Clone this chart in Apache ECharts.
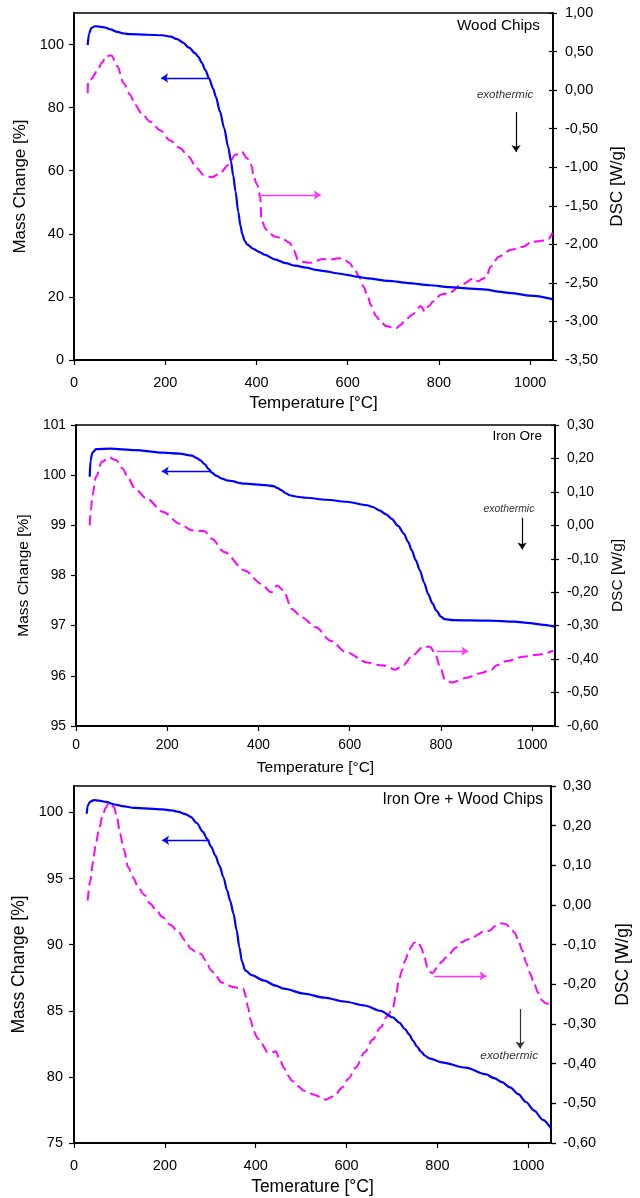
<!DOCTYPE html>
<html>
<head>
<meta charset="utf-8">
<script src="https://cdn.jsdelivr.net/npm/echarts@6/dist/echarts.min.js"></script>
<style>
html,body{margin:0;padding:0;background:#fff;}
#chart{width:640px;height:1198px;}
</style>
</head>
<body>
<div id="chart"></div>
<script>
// ---------------- DATA ----------------
const panelTitles = ['Wood Chips', 'Iron Ore', 'Iron Ore + Wood Chips'];
const xAxisTitles = ['Temperature [°C]', 'Temperature [°C]', 'Temerature [°C]'];
const leftAxisTitle = 'Mass Change [%]';
const rightAxisTitle = 'DSC [W/g]';
const annotationText = 'exothermic';

// Wood chips: [temperature °C, mass %]
const woodMass = [[30,99.8],[33,103.5],[38,105.2],[46,105.8],[55,105.7],[68,105.4],[80,104.8],[95,104.0],[110,103.5],[122,103.3],[160,103.1],[194,102.95],[212,102.5],[226,101.7],[239,100.6],[252,99.0],[266,97.2],[272,96.2],[280,94.3],[288,91.9],[296,89.3],[305,86.0],[311,83.4],[320,78.8],[329,73.6],[338,67.5],[344,63.0],[349,58.5],[354,53.5],[360,47.0],[365,42.5],[369,39.8],[374,37.8],[380,36.6],[392,35.3],[405,34.3],[419,33.3],[440,31.9],[464,30.7],[485,29.9],[509,29.3],[530,28.6],[553,28.1],[575,27.5],[598,27.0],[620,26.4],[643,25.9],[690,25.1],[733,24.4],[780,23.7],[823,23.1],[870,22.6],[904,22.3],[930,21.7],[958,21.2],[1000,20.4],[1049,19.3]];
// Wood chips: [temperature °C, DSC W/g]
const woodDsc = [[30,-0.04],[31,0.12],[37,0.14],[50,0.24],[62,0.36],[70,0.44],[82,0.45],[95,0.31],[109,0.09],[123,-0.06],[134,-0.19],[148,-0.30],[167,-0.41],[189,-0.52],[210,-0.65],[232,-0.75],[251,-0.86],[269,-1.01],[284,-1.10],[302,-1.13],[320,-1.08],[338,-0.97],[353,-0.84],[368,-0.80],[379,-0.88],[385,-0.92],[390,-0.99],[393,-1.12],[402,-1.23],[408,-1.38],[411,-1.68],[420,-1.80],[428,-1.85],[440,-1.90],[455,-1.92],[473,-1.98],[482,-2.08],[491,-2.20],[505,-2.23],[518,-2.24],[545,-2.19],[560,-2.20],[580,-2.18],[592,-2.19],[603,-2.24],[615,-2.32],[625,-2.42],[635,-2.55],[643,-2.67],[652,-2.80],[662,-2.93],[672,-3.00],[684,-3.06],[706,-3.09],[715,-3.05],[724,-3.00],[742,-2.91],[760,-2.80],[769,-2.87],[778,-2.80],[787,-2.74],[805,-2.65],[823,-2.63],[850,-2.52],[877,-2.44],[886,-2.48],[895,-2.45],[904,-2.42],[913,-2.29],[931,-2.16],[958,-2.07],[985,-2.03],[1003,-1.97],[1030,-1.95],[1040,-1.93],[1049,-1.85]];

// Iron ore
const ironMass = [[30,99.97],[32,100.3],[36,100.45],[44,100.52],[75,100.53],[129,100.5],[191,100.45],[227,100.43],[254,100.39],[265,100.34],[272,100.3],[282,100.22],[290,100.13],[298,100.05],[307,99.99],[320,99.93],[334,99.89],[370,99.83],[415,99.8],[433,99.78],[442,99.74],[450,99.7],[460,99.64],[468,99.6],[485,99.57],[504,99.55],[549,99.51],[593,99.47],[638,99.4],[652,99.36],[665,99.3],[680,99.22],[692,99.13],[706,98.99],[719,98.83],[728,98.67],[736,98.5],[745,98.3],[754,98.1],[763,97.86],[772,97.63],[781,97.45],[790,97.3],[800,97.18],[808,97.13],[826,97.11],[906,97.1],[960,97.08],[996,97.05],[1020,97.02],[1049,96.98]];
const ironDsc = [[30,0.0],[33,0.05],[36,0.09],[44,0.145],[57,0.19],[73,0.203],[88,0.195],[102,0.17],[115,0.14],[129,0.11],[155,0.08],[191,0.04],[227,0.005],[254,-0.015],[268,-0.017],[281,-0.017],[298,-0.04],[325,-0.08],[370,-0.135],[406,-0.175],[428,-0.2],[441,-0.18],[455,-0.195],[473,-0.25],[495,-0.275],[526,-0.305],[558,-0.345],[593,-0.38],[638,-0.41],[666,-0.418],[680,-0.42],[699,-0.432],[717,-0.418],[739,-0.388],[761,-0.363],[776,-0.363],[787,-0.383],[798,-0.423],[809,-0.462],[824,-0.47],[856,-0.456],[886,-0.442],[911,-0.432],[922,-0.418],[944,-0.406],[980,-0.393],[1017,-0.386],[1046,-0.375]];

// Iron ore + wood chips
const mixMass = [[28,99.9],[30,100.5],[35,100.8],[44,100.93],[55,100.9],[70,100.8],[90,100.6],[106,100.48],[133,100.35],[195,100.23],[215,100.15],[230,100.05],[245,99.88],[257,99.67],[270,99.2],[284,98.54],[293,98.0],[302,97.4],[311,96.75],[320,96.0],[329,95.1],[337,94.1],[344,93.3],[351,92.35],[358,91.1],[364,89.8],[370,88.7],[377,88.05],[391,87.7],[417,87.3],[444,86.9],[462,86.67],[506,86.3],[551,86.0],[595,85.7],[640,85.4],[675,85.0],[702,84.5],[716,84.1],[729,83.6],[738,83.2],[746,82.75],[755,82.3],[764,81.9],[773,81.6],[782,81.4],[809,81.1],[862,80.7],[907,80.2],[925,79.9],[942,79.6],[960,79.2],[978,78.7],[995,78.1],[1013,77.45],[1032,76.75],[1051,76.05]];
const mixDsc = [[30,0.011],[36,0.062],[42,0.11],[48,0.155],[55,0.19],[63,0.226],[70,0.245],[77,0.257],[88,0.247],[95,0.22],[101,0.18],[110,0.14],[119,0.096],[130,0.07],[141,0.045],[155,0.025],[168,0.003],[182,-0.015],[195,-0.031],[212,-0.05],[230,-0.068],[245,-0.09],[257,-0.11],[270,-0.12],[279,-0.123],[290,-0.14],[302,-0.165],[313,-0.18],[324,-0.195],[340,-0.203],[351,-0.207],[362,-0.209],[373,-0.211],[378,-0.23],[383,-0.258],[389,-0.29],[395,-0.317],[404,-0.335],[413,-0.35],[426,-0.371],[435,-0.372],[444,-0.369],[453,-0.39],[462,-0.41],[471,-0.43],[480,-0.443],[493,-0.457],[506,-0.468],[520,-0.475],[533,-0.48],[545,-0.486],[555,-0.491],[565,-0.485],[577,-0.476],[590,-0.46],[604,-0.438],[620,-0.41],[640,-0.371],[657,-0.34],[675,-0.308],[690,-0.28],[702,-0.258],[709,-0.225],[715,-0.19],[722,-0.165],[729,-0.14],[736,-0.12],[742,-0.106],[748,-0.096],[754,-0.092],[759,-0.097],[764,-0.106],[771,-0.13],[778,-0.157],[783,-0.168],[789,-0.172],[799,-0.158],[809,-0.144],[818,-0.133],[826,-0.123],[840,-0.108],[853,-0.094],[866,-0.087],[880,-0.081],[890,-0.074],[898,-0.068],[907,-0.067],[916,-0.064],[927,-0.053],[938,-0.046],[950,-0.048],[960,-0.056],[970,-0.07],[978,-0.089],[987,-0.115],[996,-0.148],[1004,-0.172],[1013,-0.199],[1022,-0.222],[1031,-0.241],[1038,-0.248],[1045,-0.249],[1051,-0.258]];

// Annotation arrows (data coordinates): [[x1,y1],[x2,y2]] – arrow head at the second point
const massArrows = [[[296,89.4],[191,89.4]], [[296,100.08],[188,100.08]], [[298,97.9],[194,97.9]]];
const dscArrows  = [[[410,-1.36],[541,-1.36]], [[791,-0.376],[860,-0.376]], [[793,-0.179],[908,-0.179]]];
const exoArrows  = [[[969,78.6],[969,65.9]], [[978,99.15],[978,98.52]], [[982,85.13],[982,82.15]]];
const exoLabels  = [[945,84.0], [949,99.33], [958,81.58]];

// Axis ranges
const xRange = {min: 0, max: 1050, interval: 200};
const leftRanges  = [{min:0,max:110,interval:20}, {min:95,max:101,interval:1}, {min:75,max:102,interval:5}];
const rightRanges = [{min:-3.5,max:1,interval:0.5}, {min:-0.6,max:0.3,interval:0.1}, {min:-0.6,max:0.3,interval:0.1}];

// ---------------- LAYOUT / STYLE ----------------
const FONT = '"Liberation Sans", Arial, Helvetica, sans-serif';
const BLUE = '#0000FF';
const MAGENTA = '#FF00FF';
const grids = [
  {left: 74, top: 13, width: 479, height: 347},
  {left: 76, top: 425, width: 479, height: 301},
  {left: 74, top: 786, width: 482, height: 357}
];
const st = [
  {tick: 14.5, title: 17, xMargin: 15, xGap: 35, yMargin: 10, yGap: 40, rMargin: 12, rGap: 55, label: 15.3, exo: 11.5, ty: 26},
  {tick: 13.8, title: 15.5, xMargin: 12, xGap: 34, yMargin: 10, yGap: 36, rMargin: 12, rGap: 52, label: 13.5, exo: 10.4, ty: 436},
  {tick: 14.5, title: 17.5, xMargin: 15, xGap: 35, yMargin: 11, yGap: 37, rMargin: 12, rGap: 63, label: 15.7, exo: 11.8, ty: 800}
];

function fmtComma(v) {
  if (Math.abs(v) < 1e-9) v = 0;
  return v.toFixed(2).replace('.', ',');
}
function fmtPlain(v) { return String(Math.round(v * 1000) / 1000); }

const option = {
  animation: false,
  backgroundColor: '#fff',
  grid: [], xAxis: [], yAxis: [], series: [], graphic: []
};

for (let i = 0; i < 3; i++) {
  const s = st[i];
  option.grid.push(Object.assign({show: true, borderColor: '#000', borderWidth: 1.6, backgroundColor: 'transparent', containLabel: false}, grids[i]));
  option.xAxis.push({
    type: 'value', gridIndex: i, min: xRange.min, max: xRange.max, interval: xRange.interval,
    name: xAxisTitles[i], nameLocation: 'middle', nameGap: s.xGap,
    nameTextStyle: {fontFamily: FONT, fontSize: s.title, color: '#000'},
    axisLine: {show: true, onZero: false, lineStyle: {color: '#000', width: 1.8}},
    axisTick: {show: true, inside: false, length: 5, lineStyle: {color: '#000', width: 1.2}},
    axisLabel: {fontFamily: FONT, fontSize: s.tick, color: '#000', margin: s.xMargin, showMaxLabel: false, formatter: fmtPlain},
    splitLine: {show: false}
  });
  option.yAxis.push({
    type: 'value', gridIndex: i, position: 'left',
    min: leftRanges[i].min, max: leftRanges[i].max, interval: leftRanges[i].interval,
    name: leftAxisTitle, nameLocation: 'middle', nameGap: s.yGap, nameRotate: 90,
    nameTextStyle: {fontFamily: FONT, fontSize: s.title, color: '#000'},
    axisLine: {show: true, onZero: false, lineStyle: {color: '#000', width: 1.8}},
    axisTick: {show: true, inside: false, length: 5, lineStyle: {color: '#000', width: 1.2}},
    axisLabel: {fontFamily: FONT, fontSize: s.tick, color: '#000', margin: s.yMargin, showMaxLabel: i === 1, formatter: fmtPlain},
    splitLine: {show: false}
  });
  option.yAxis.push({
    type: 'value', gridIndex: i, position: 'right',
    min: rightRanges[i].min, max: rightRanges[i].max, interval: rightRanges[i].interval,
    name: rightAxisTitle, nameLocation: 'middle', nameGap: s.rGap, nameRotate: 90,
    nameTextStyle: {fontFamily: FONT, fontSize: s.title, color: '#000'},
    axisLine: {show: true, onZero: false, lineStyle: {color: '#000', width: 1.8}},
    axisTick: {show: true, inside: false, length: 4, lineStyle: {color: '#000', width: 1.2}},
    axisLabel: {fontFamily: FONT, fontSize: s.tick, color: '#000', margin: s.rMargin, formatter: fmtComma},
    splitLine: {show: false}
  });
}
// overlay grids: the inward half of the right-axis crossing ticks
// (the lone axis lands on the left, so it is shifted to the right edge with a negative offset)
for (let i = 0; i < 3; i++) {
  option.grid.push(Object.assign({show: false}, grids[i]));
  option.xAxis.push({type: 'value', gridIndex: 3 + i, min: xRange.min, max: xRange.max, show: false});
  option.yAxis.push({
    type: 'value', gridIndex: 3 + i, position: 'left', offset: -grids[i].width,
    min: rightRanges[i].min, max: rightRanges[i].max, interval: rightRanges[i].interval,
    axisLine: {show: false},
    axisTick: {show: true, inside: false, length: 4, lineStyle: {color: '#000', width: 1.2}},
    axisLabel: {show: false},
    splitLine: {show: false}
  });
}

const massData = [woodMass, ironMass, mixMass];
const dscData = [woodDsc, ironDsc, mixDsc];

for (let i = 0; i < 3; i++) {
  const exoColor = i === 2 ? '#333' : '#000';
  option.series.push({
    type: 'line', name: 'mass' + i, xAxisIndex: i, yAxisIndex: 2 * i,
    data: massData[i], showSymbol: false, smooth: 0.3, smoothMonotone: 'x',
    lineStyle: {color: BLUE, width: 2.2}, z: 3,
    markLine: {
      silent: true, animation: false, symbol: ['none', 'arrow'], symbolSize: 7,
      label: {show: false},
      data: [
        [{coord: massArrows[i][0], lineStyle: {color: BLUE, width: 1.3, type: 'solid'}, itemStyle: {color: BLUE}}, {coord: massArrows[i][1]}],
        [{coord: exoArrows[i][0], lineStyle: {color: exoColor, width: 1.2, type: 'solid'}, itemStyle: {color: exoColor}}, {coord: exoArrows[i][1]}]
      ]
    },
    markPoint: {
      silent: true, animation: false, symbol: 'circle', symbolSize: 0,
      label: {show: true, position: 'inside', formatter: annotationText, fontFamily: FONT, fontStyle: 'italic', fontSize: st[i].exo, color: '#333'},
      data: [{coord: exoLabels[i]}]
    }
  });
  option.series.push({
    type: 'line', name: 'dsc' + i, xAxisIndex: i, yAxisIndex: 2 * i + 1,
    data: dscData[i], showSymbol: false, smooth: 0.3, smoothMonotone: 'x',
    lineStyle: {color: MAGENTA, width: 2, type: [10, 5]}, z: 2,
    markLine: {
      silent: true, animation: false, symbol: ['none', 'arrow'], symbolSize: 7,
      label: {show: false},
      data: [
        [{coord: dscArrows[i][0], lineStyle: {color: '#FF33FF', width: 1.3, type: 'solid'}, itemStyle: {color: '#FF33FF'}}, {coord: dscArrows[i][1]}]
      ]
    }
  });
  const g = grids[i];
  option.graphic.push({
    type: 'text', x: g.left + g.width - 13, y: st[i].ty,
    style: {text: panelTitles[i], font: st[i].label + 'px ' + FONT, fill: '#000', align: 'right', verticalAlign: 'middle'}
  });
}

const chart = echarts.init(document.getElementById('chart'), null, {renderer: 'canvas'});
chart.setOption(option);
</script>
</body>
</html>
